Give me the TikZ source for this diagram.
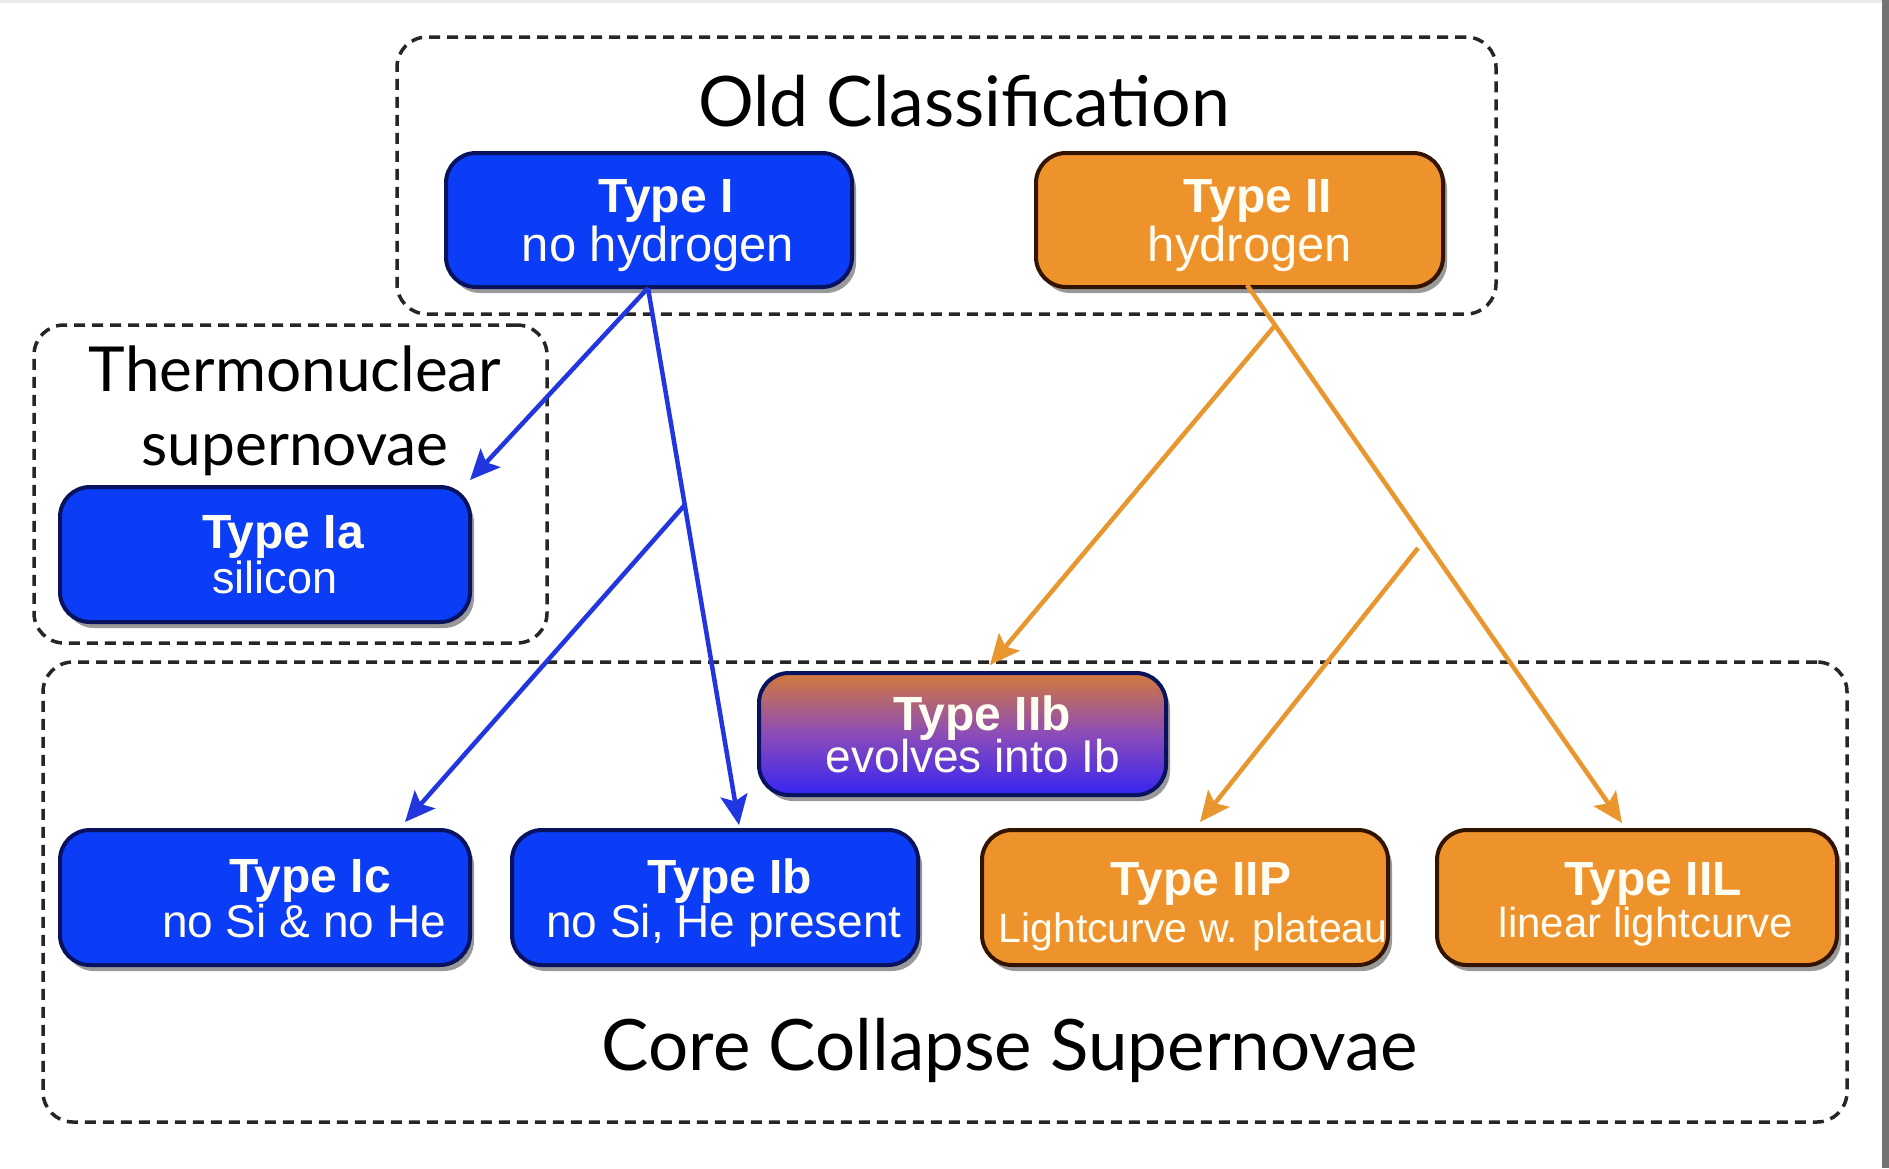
\documentclass[tikz,border=0pt]{standalone}
\usepackage{fontspec}
\setmainfont{Liberation Sans}
\newfontfamily\headfont{Lato}
\usetikzlibrary{shadows,arrows.meta,calc}
\definecolor{sblue}{HTML}{0B3CF6}
\definecolor{sblueline}{HTML}{08125E}
\definecolor{sorange}{HTML}{EE922C}
\definecolor{sorangeline}{HTML}{331400}
\definecolor{ablue}{HTML}{2236E0}
\definecolor{aorange}{HTML}{E9962F}
\definecolor{txtwhite}{HTML}{FFFCF2}
\definecolor{gradtop}{HTML}{D27A3A}
\definecolor{gradmid}{HTML}{8C4CB8}
\definecolor{gradbot}{HTML}{3524F2}
\begin{document}
\begin{tikzpicture}[x=1pt,y=-1pt,
  sbox/.style={rounded corners=30pt, line width=4pt, inner sep=0pt,
    drop shadow={shadow xshift=4pt, shadow yshift=-6pt, opacity=0.4, fill=black}},
  bluebox/.style={sbox, fill=sblue, draw=sblueline},
  orangebox/.style={sbox, fill=sorange, draw=sorangeline},
  gradbox/.style={sbox, draw=sblueline, top color=gradtop, bottom color=gradbot, middle color=gradmid},
  dashbox/.style={draw=black!85, line width=3.5pt, dash pattern=on 11pt off 7pt, rounded corners=30pt, inner sep=0pt},
  tit/.style={anchor=base, text=txtwhite, inner sep=0pt, font=\fontsize{48}{50}\selectfont\bfseries},
  subt/.style={anchor=base, text=txtwhite, inner sep=0pt, font=\fontsize{#1}{#1}\selectfont},
  head/.style={anchor=base, inner sep=0pt, text=black},
  barrow/.style={draw=ablue, line width=4.5pt, -{Stealth[length=30pt,width=27pt,inset=6pt]}},
  oarrow/.style={draw=aorange, line width=4.5pt, -{Stealth[length=30pt,width=27pt,inset=6pt]}}
]
\useasboundingbox (0,0) rectangle (1889,1168);
\fill[white] (0,0) rectangle (1889,1168);
\fill[black!8] (0,0) rectangle (1882,3);
\fill[black!55] (1882,0) rectangle (1889,1168);

% dashed groups
\node[dashbox, minimum width=1099pt, minimum height=277pt] (old) at (946.5,175.5) {};
\node[dashbox, minimum width=513pt, minimum height=318pt] (thermo) at (290.5,484) {};
\node[dashbox, minimum width=1804pt, minimum height=460pt] (core) at (945,892) {};

% headings
\node[head] (hold) at (964,126) {\resizebox{532pt}{!}{\headfont Old Classification}};
\node[head] (hthermo) at (295,391) {\resizebox{412pt}{!}{\headfont Thermonuclear}};
\node[head] (hsuper) at (295,465) {\resizebox{307pt}{!}{\headfont supernovae}};
\node[head] (hcore) at (1010,1070) {\resizebox{816pt}{!}{\headfont Core Collapse Supernovae}};

% connector end points
\coordinate (bs) at (648,288);
\coordinate (bIa) at (470,480);
\coordinate (bIb) at (739,825);
\coordinate (bIc) at (405,822);
\coordinate (bb) at ($(bs)!0.404!(bIb)$);
\coordinate (os) at (1247,285);
\coordinate (oL) at (1622,823);
\coordinate (oIIb) at (990,665);
\coordinate (oP) at (1200,822);
\coordinate (ob1) at ($(os)!0.075!(oL)$);
\coordinate (ob2) at (1418,548);

% boxes
\node[bluebox, minimum width=406pt, minimum height=134pt] (tI) at (649,220) {};
\node[orangebox, minimum width=407pt, minimum height=134pt] (tII) at (1239.5,220) {};
\node[bluebox, minimum width=410pt, minimum height=135pt] (tIa) at (265,554.5) {};
\node[gradbox, minimum width=407pt, minimum height=122pt] (tIIb) at (962.5,734) {};
\node[bluebox, minimum width=410pt, minimum height=135pt] (tIc) at (265,897.5) {};
\node[bluebox, minimum width=406pt, minimum height=135pt] (tIb) at (715,897.5) {};
\node[orangebox, minimum width=406pt, minimum height=135pt] (tIIP) at (1185,897.5) {};
\node[orangebox, minimum width=400pt, minimum height=135pt] (tIIL) at (1637,897.5) {};

\draw[barrow] (bs) -- (bIa);
\draw[barrow] (bs) -- (bIb);
\draw[barrow] (bb) -- (bIc);
\draw[oarrow] (os) -- (oL);
\draw[oarrow] (ob1) -- (oIIb);
\draw[oarrow] (ob2) -- (oP);

% box texts
\node[tit] (xI) at (666,212) {Type I};
\node[subt=49] (sI) at (658,261) {no hydrogen};
\node[tit] (xII) at (1258,212) {Type II};
\node[subt=49] (sII) at (1250,261) {hydrogen};
\node[tit] (xIa) at (283,548) {Type Ia};
\node[subt=45] (sIa) at (275,593) {silicon};
\node[tit] (xIIb) at (982,730) {Type IIb};
\node[subt=46] (sIIb) at (973,772) {evolves into Ib};
\node[tit] (xIc) at (310,892) {Type Ic};
\node[subt=46] (sIc) at (304,937) {no Si \& no He};
\node[tit] (xIb) at (730,893) {Type Ib};
\node[subt=46] (sIb) at (724,937) {no Si, He present};
\node[tit] (xIIP) at (1201,895) {Type IIP};
\node[subt=41] (sIIP) at (1193,942) {Lightcurve w. plateau};
\node[tit] (xIIL) at (1653,895) {Type IIL};
\node[subt=42] (sIIL) at (1646,937) {linear lightcurve};
\end{tikzpicture}
\end{document}
